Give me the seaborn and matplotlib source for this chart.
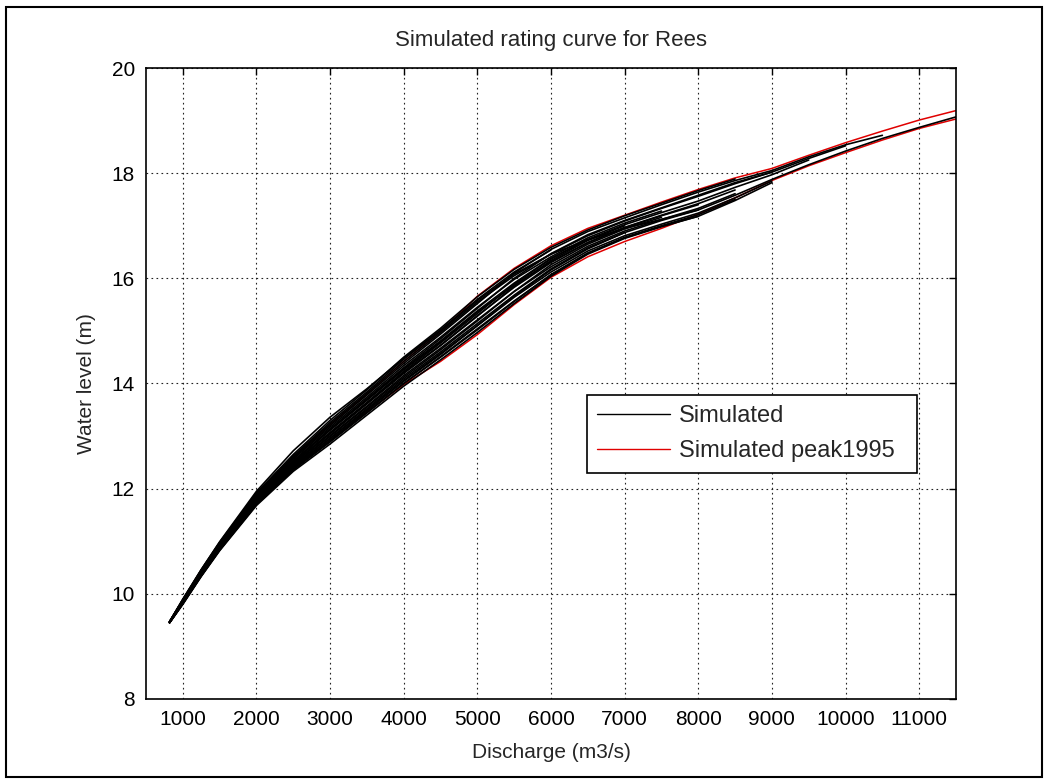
import numpy as np
import pandas as pd
import matplotlib
matplotlib.use("Agg")
import matplotlib.pyplot as plt
from matplotlib.lines import Line2D
from matplotlib.patches import Rectangle
import seaborn as sns

# Discharge grid (m3/s)
discharge = [820, 1000, 1250, 1500, 2000, 2500, 3000, 3500, 4000, 4500, 5000, 5500,
             6000, 6500, 7000, 7500, 8000, 8500, 9000, 9500, 10000, 10500, 11000, 11500]

# Simulated rating curves (water level, m), each runs along the discharge grid until its peak
sim_01 = [9.45, 9.80, 10.33, 10.82, 11.68, 12.33, 12.85, 13.40, 13.95, 14.45, 14.97, 15.52, 16.04, 16.46, 16.76, 16.98, 17.18, 17.48, 17.82]
sim_02 = [9.45, 9.81, 10.34, 10.83, 11.70, 12.36, 12.89, 13.44, 14.00, 14.50, 15.02, 15.56, 16.07, 16.48, 16.78, 17.00, 17.21, 17.50]
sim_03 = [9.45, 9.82, 10.35, 10.84, 11.72, 12.38, 12.92, 13.48, 14.04, 14.55, 15.10, 15.66, 16.16, 16.56, 16.87, 17.10, 17.30]
sim_04 = [9.46, 9.82, 10.36, 10.86, 11.73, 12.40, 12.95, 13.50, 14.06, 14.57, 15.10, 15.64, 16.12, 16.52, 16.81, 17.03, 17.24, 17.53, 17.85]
sim_05 = [9.46, 9.83, 10.37, 10.87, 11.75, 12.43, 12.99, 13.55, 14.12, 14.64, 15.19, 15.75, 16.26, 16.65, 16.94, 17.16]
sim_06 = [9.46, 9.84, 10.38, 10.88, 11.77, 12.45, 13.01, 13.57, 14.15, 14.67, 15.21, 15.75, 16.22, 16.61, 16.90, 17.12, 17.33, 17.61]
sim_07 = [9.46, 9.84, 10.39, 10.89, 11.78, 12.47, 13.04, 13.61, 14.19, 14.72, 15.28, 15.85, 16.34, 16.72, 17.00]
sim_08 = [9.46, 9.85, 10.40, 10.90, 11.80, 12.49, 13.07, 13.64, 14.23, 14.77, 15.33, 15.89, 16.37, 16.74, 17.02, 17.25, 17.47, 17.73, 17.97, 18.25]
sim_09 = [9.46, 9.86, 10.40, 10.91, 11.82, 12.51, 13.11, 13.68, 14.26, 14.79, 15.36, 15.87, 16.32, 16.68, 16.96, 17.19, 17.40]
sim_10 = [9.46, 9.86, 10.41, 10.92, 11.83, 12.53, 13.14, 13.71, 14.30, 14.85, 15.43, 16.00, 16.47, 16.83, 17.10, 17.34, 17.58, 17.82, 18.02, 18.28, 18.52]
sim_11 = [9.47, 9.87, 10.42, 10.93, 11.85, 12.56, 13.17, 13.74, 14.34, 14.88, 15.45, 15.98, 16.41, 16.77, 17.05, 17.28]
sim_12 = [9.47, 9.88, 10.43, 10.95, 11.87, 12.58, 13.20, 13.78, 14.38, 14.94, 15.52, 16.10, 16.55, 16.89, 17.15, 17.40, 17.64, 17.86, 18.05, 18.31, 18.54, 18.72]
sim_13 = [9.47, 9.88, 10.44, 10.96, 11.88, 12.60, 13.23, 13.81, 14.42, 14.97, 15.55, 16.05, 16.46, 16.81, 17.09, 17.33, 17.56, 17.80, 18.02]
sim_14 = [9.47, 9.89, 10.45, 10.97, 11.90, 12.62, 13.26, 13.84, 14.46, 15.00, 15.58, 16.08, 16.46, 16.73, 16.95, 17.12, 17.30, 17.58, 17.88, 18.16, 18.42, 18.66, 18.87, 19.07]
sim_15 = [9.47, 9.90, 10.46, 10.98, 11.92, 12.65, 13.30, 13.88, 14.50, 15.05, 15.65, 16.17, 16.59, 16.92, 17.19, 17.43, 17.67, 17.89]
sim_16 = [9.47, 9.89, 10.46, 10.99, 11.95, 12.72, 13.36, 13.90, 14.48, 15.02, 15.60, 16.12, 16.54]
sim_17 = [9.45, 9.83, 10.36, 10.86, 11.74, 12.41, 12.96, 13.52, 14.09, 14.60, 15.14, 15.68, 16.18, 16.58, 16.87]
sim_18 = [9.46, 9.86, 10.41, 10.92, 11.82, 12.52, 13.12, 13.69, 14.28, 14.81, 15.38, 15.91, 16.38, 16.74]
sim_19 = [9.45, 9.81, 10.34, 10.84, 11.70, 12.36, 12.90, 13.45, 14.00, 14.51, 15.04, 15.57, 16.07, 16.48, 16.77, 16.99, 17.18]
sim_20 = [9.46, 9.85, 10.39, 10.90, 11.79, 12.48, 13.06, 13.63, 14.21, 14.73, 15.29, 15.83, 16.30, 16.68, 16.97, 17.20, 17.42, 17.68]

# Simulated peak 1995 (rising and falling limb of the loop)
peak1995_upper = [9.46, 9.88, 10.44, 10.95, 11.88, 12.60, 13.22, 13.80, 14.42, 14.98, 15.66, 16.19,
                  16.62, 16.95, 17.20, 17.45, 17.69, 17.91, 18.09, 18.34, 18.58, 18.80, 19.01, 19.19]
peak1995_lower = [9.45, 9.82, 10.35, 10.85, 11.72, 12.38, 12.92, 13.46, 13.98, 14.42, 14.93, 15.50,
                  16.02, 16.41, 16.70, 16.95, 17.22, 17.53, 17.86, 18.14, 18.39, 18.63, 18.85, 19.03]

sim_curves = [sim_01, sim_02, sim_03, sim_04, sim_05, sim_06, sim_07, sim_08, sim_09, sim_10,
              sim_11, sim_12, sim_13, sim_14, sim_15, sim_16, sim_17, sim_18, sim_19, sim_20]
peak_curves = [peak1995_upper, peak1995_lower]

x_ticks = [1000, 2000, 3000, 4000, 5000, 6000, 7000, 8000, 9000, 10000, 11000]
y_ticks = [8, 10, 12, 14, 16, 18, 20]


def to_long(curves, prefix):
    rows = []
    for i, c in enumerate(curves):
        for q, h in zip(discharge, c):
            rows.append({"curve": f"{prefix}{i}", "Q": q, "H": h})
    return pd.DataFrame(rows)


df_sim = to_long(sim_curves, "s")
df_peak = to_long(peak_curves, "p")

sns.set_style("white")
plt.rcParams["font.family"] = ["Liberation Sans", "DejaVu Sans"]

fig = plt.figure(figsize=(10.46, 7.8), dpi=100)
ax = fig.add_axes([146 / 1046, 1 - 699 / 780, 810 / 1046, 631 / 780])

sns.lineplot(data=df_peak, x="Q", y="H", units="curve", estimator=None, sort=False,
             color="#e00000", linewidth=1.1, ax=ax, legend=False)
sns.lineplot(data=df_sim, x="Q", y="H", units="curve", estimator=None, sort=False,
             color="black", linewidth=1.2, ax=ax, legend=False)

ax.set_xlim(500, 11500)
ax.set_ylim(8, 20)
ax.set_xticks(x_ticks)
ax.set_yticks(y_ticks)
ax.grid(True, color="#222222", linestyle=(0, (1.5, 3)), linewidth=0.8)
ax.tick_params(direction="in", length=5, width=1, top=True, right=True,
               labelsize=15, colors="black", pad=8)
for s in ax.spines.values():
    s.set_color("black")
    s.set_linewidth(1.2)

ax.set_title("Simulated rating curve for Rees", fontsize=16, pad=16)
ax.set_xlabel("Discharge (m3/s)", fontsize=15, labelpad=10)
ax.set_ylabel("Water level (m)", fontsize=15, labelpad=11)

handles = [Line2D([], [], color="black", lw=1.0), Line2D([], [], color="#e00000", lw=1.0)]
leg = ax.legend(handles, ["Simulated", "Simulated peak1995"], loc="lower left",
                bbox_to_anchor=(0.544, 0.358, 0.408, 0.122), mode="expand", borderaxespad=0,
                fontsize=17, frameon=True, fancybox=False, framealpha=1, edgecolor="black",
                handlelength=3.1, handletextpad=0.35, borderpad=0.45, labelspacing=0.55)
leg.get_frame().set_linewidth(1.2)

fig.patches.append(Rectangle((6 / 1046, 3 / 780), 1036 / 1046, 770 / 780, transform=fig.transFigure,
                             fill=False, edgecolor="black", linewidth=1.5))

fig.savefig("out.png", dpi=100, facecolor="white")
